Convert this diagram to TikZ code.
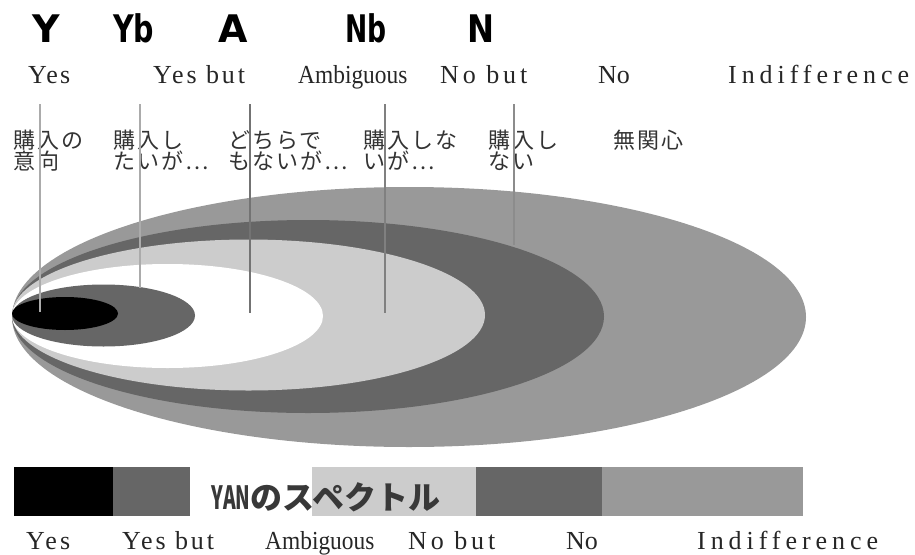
\documentclass[tikz,border=0pt]{standalone}
\usepackage{fontspec}
\setmainfont{Liberation Serif}
\newfontfamily\jpfont{Noto Sans CJK JP}
\newfontfamily\bigfont{DejaVu Sans}
\definecolor{gmid}{HTML}{999999}
\definecolor{gdark}{HTML}{666666}
\definecolor{glight}{HTML}{CCCCCC}
\begin{document}
\begin{tikzpicture}[x=1pt,y=-1pt,
  big/.style={font=\bigfont\bfseries\fontsize{38}{38}\selectfont, anchor=base west, inner sep=0pt},
  en/.style={font=\fontsize{26}{26}\selectfont, anchor=base west, inner sep=0pt, text=black!85},
  jp/.style={font=\jpfont\fontsize{22}{22}\selectfont\addfontfeature{LetterSpace=9}, anchor=base west, inner sep=0pt, text=black!80},
  pole/.style={line width=2pt},
  bar/.style={inner sep=0pt, outer sep=0pt, minimum height=49pt, anchor=north west}
]
\useasboundingbox (0,0) rectangle (915,554);
% nested ellipses
\fill[gmid]   (409,317)   ellipse [x radius=397pt, y radius=130pt];
\fill[gdark]  (308,316.5) ellipse [x radius=296pt, y radius=96.5pt];
\fill[glight] (248.5,315) ellipse [x radius=236.5pt, y radius=75.5pt];
\fill[white]  (167.5,316) ellipse [x radius=155.5pt, y radius=52pt];
\fill[gdark]  (103.5,315.5) ellipse [x radius=91.5pt, y radius=31pt];
\fill[black]  (65,313.5)  ellipse [x radius=53pt, y radius=16.5pt];
% big letters
\node[big] (bY)  at (32,42)  {Y};
\node[big] (bYb) at (113,42) {\scalebox{0.75}[1]{Yb}};
\node[big] (bA)  at (218,42) {A};
\node[big] (bNb) at (345,42) {\scalebox{0.7}[1]{Nb}};
\node[big] (bN)  at (467,42) {\scalebox{0.85}[1]{N}};
% top english labels
\node[en] (tYes) at (28,83)  {\addfontfeature{LetterSpace=8}Yes};
\node[en] (tYb)  at (153,83) {\addfontfeature{LetterSpace=11}Yes but};
\node[en] (tA)   at (298,83) {\scalebox{0.9}[1]{Ambiguous}};
\node[en] (tNb)  at (440,83) {\addfontfeature{LetterSpace=15}No but};
\node[en] (tN)   at (598,83) {No};
\node[en] (tI)   at (728,83) {\addfontfeature{LetterSpace=19}Indifference};
% japanese labels
\node[jp] (j1a) at (13,148)  {購入の};
\node[jp] (j1b) at (13,169)  {意向};
\node[jp] (j2a) at (113,148) {購入し};
\node[jp] (j2b) at (113,169) {たいが…};
\node[jp] (j3a) at (228,148) {どちらで};
\node[jp] (j3b) at (228,169) {もないが…};
\node[jp] (j4a) at (363,148) {購入しな};
\node[jp] (j4b) at (363,169) {いが…};
\node[jp] (j5a) at (488,148) {購入し};
\node[jp] (j5b) at (488,169) {ない};
\node[jp] (j6a) at (613,148) {無関心};
% poles
\coordinate (p1t) at (40,104);  \coordinate (p1b) at (40,312);
\coordinate (p2t) at (140,104); \coordinate (p2b) at (140,288);
\coordinate (p3t) at (250,104); \coordinate (p3b) at (250,313);
\coordinate (p4t) at (385,104); \coordinate (p4b) at (385,313);
\coordinate (p5t) at (514,104); \coordinate (p5b) at (514,245);
\draw[pole, color=black!33] (p1t) -- (p1b);
\draw[pole, color=black!33] (p2t) -- (p2b);
\draw[pole, color=black!55] (p3t) -- (p3b);
\draw[pole, color=black!50] (p4t) -- (p4b);
\draw[pole, color=black!45] (p5t) -- (p5b);
% spectrum bar
\node[bar, fill=black,  minimum width=99pt]  (s1) at (14,467)  {};
\node[bar, fill=gdark,  minimum width=77pt]  (s2) at (113,467) {};
\node[bar, fill=white,  minimum width=122pt] (s3) at (190,467) {};
\node[bar, fill=glight, minimum width=164pt] (s4) at (312,467) {};
\node[bar, fill=gdark,  minimum width=126pt] (s5) at (476,467) {};
\node[bar, fill=gmid,   minimum width=201pt] (s6) at (602,467) {};
\node[font=\jpfont\bfseries\fontsize{32}{32}\selectfont, text=black!78, inner sep=0pt] (yan) at (326,497) {\scalebox{0.6}[1]{YAN}のスペクトル};
% bottom english labels
\node[en] (bYes) at (26,549)  {\addfontfeature{LetterSpace=12}Yes};
\node[en] (bYbt) at (122,549) {\addfontfeature{LetterSpace=11}Yes but};
\node[en] (bAm)  at (265,549) {\scalebox{0.9}[1]{Ambiguous}};
\node[en] (bNbt) at (408,549) {\addfontfeature{LetterSpace=15}No but};
\node[en] (bNo)  at (566,549) {No};
\node[en] (bInd) at (697,549) {\addfontfeature{LetterSpace=19}Indifference};
\end{tikzpicture}
\end{document}
